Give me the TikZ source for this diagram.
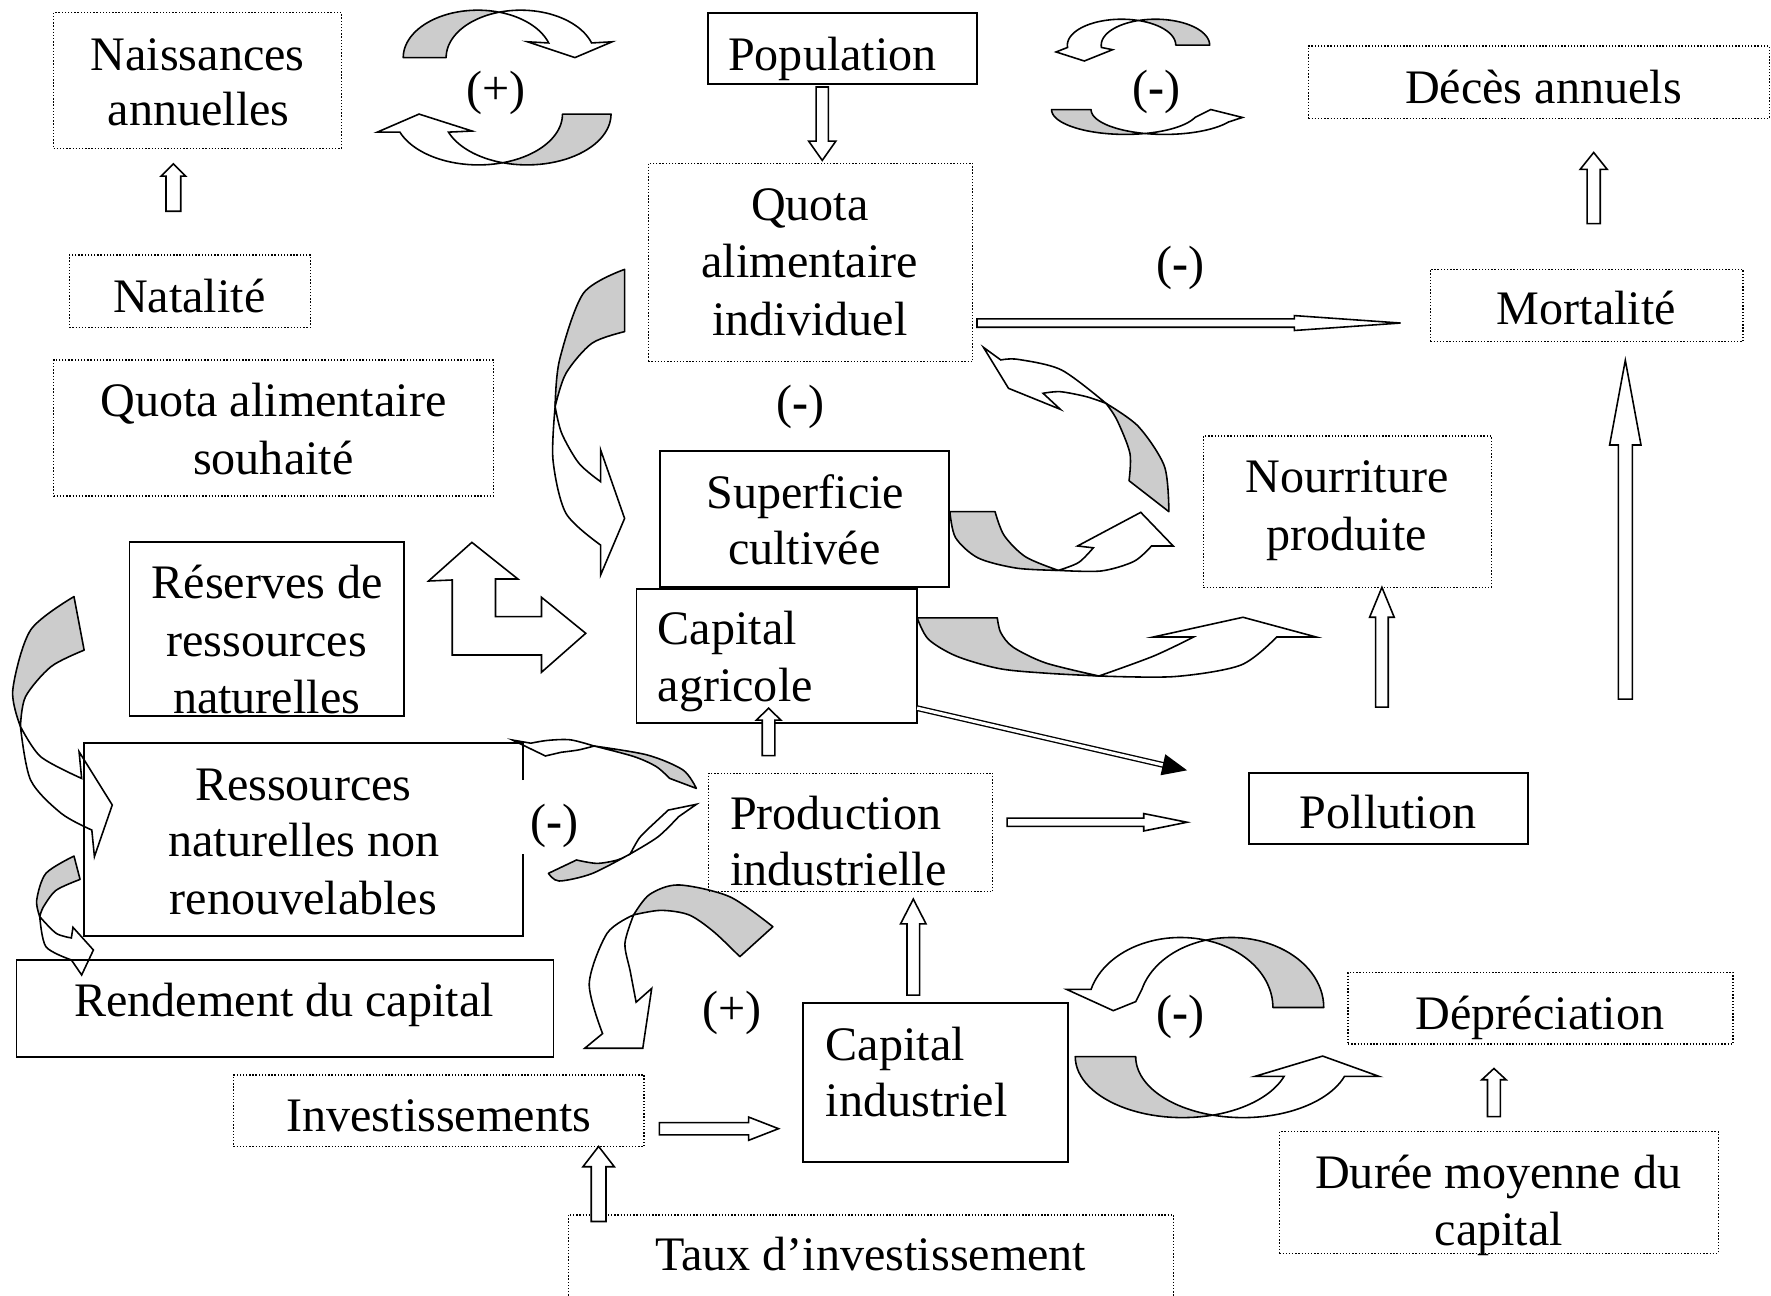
\documentclass[tikz,border=0pt]{standalone}
\usepackage{fontspec}
\setmainfont{Liberation Serif}
\usetikzlibrary{fit}
\definecolor{backgray}{RGB}{204,204,204}
\newcommand\vblock[6]{\filldraw[blockarrow] ({#1-#5},#4) -- ({#1-#5},#3) -- ({#1-#6},#3) -- (#1,#2) -- ({#1+#6},#3) -- ({#1+#5},#3) -- ({#1+#5},#4) -- cycle;}
\newcommand\hblock[6]{\filldraw[blockarrow] (#4,{#1-#5}) -- (#3,{#1-#5}) -- (#3,{#1-#6}) -- (#2,#1) -- (#3,{#1+#6}) -- (#3,{#1+#5}) -- (#4,{#1+#5}) -- cycle;}
\begin{document}
\begin{tikzpicture}[x=0.5pt,y=-0.5pt,
  sbox/.style={draw, line width=0.8pt, inner sep=0pt},
  dbox/.style={draw, line width=0.6pt, dash pattern=on 0.6pt off 0.8pt, inner sep=0pt},
  lbl/.style={font=\fontsize{21.3pt}{25.5pt}\selectfont, inner sep=0pt, anchor=base},
  sign/.style={font=\fontsize{21.3pt}{25.5pt}\selectfont, inner sep=0pt, anchor=center},
  blockarrow/.style={draw, fill=white, line width=0.7pt, line join=miter},
  backside/.style={draw, fill=backgray, line width=0.7pt, line join=round},
  frontside/.style={draw, fill=white, line width=0.7pt, line join=miter}]
\useasboundingbox (0,0) rectangle (1568,1147);

% ---------- curved arrows ----------
% (+) loop, top
\filldraw[backside] plot[domain=180:73.3,samples=30] ({423+66*cos(\x)},{51-42*sin(\x)}) -- plot[domain=106.7:180,samples=30] ({461+66*cos(\x)},{51-42*sin(\x)}) -- cycle;
\filldraw[frontside] plot[domain=73.3:18,samples=30] ({423+66*cos(\x)},{51-42*sin(\x)}) -- (467,37) -- (509,51) -- (542,37) -- plot[domain=18:106.7,samples=30] ({461+66*cos(\x)},{51-42*sin(\x)}) -- cycle;
\filldraw[backside] plot[domain=0:106.8,samples=30] ({466.6+74.4*cos(\x)},{101+45*sin(\x)}) -- plot[domain=73.2:0,samples=30] ({423.6+74.4*cos(\x)},{101+45*sin(\x)}) -- cycle;
\filldraw[frontside] plot[domain=106.8:159.2,samples=30] ({466.6+74.4*cos(\x)},{101+45*sin(\x)}) -- (418,116) -- (371,101) -- (334,117) -- plot[domain=159.2:73.2,samples=30] ({423.6+74.4*cos(\x)},{101+45*sin(\x)}) -- cycle;
% (-) loop, top right
\filldraw[backside] plot[domain=0:108.2,samples=30] ({1023+48*cos(\x)},{40-23*sin(\x)}) -- plot[domain=71.8:0,samples=30] ({993+48*cos(\x)},{40-23*sin(\x)}) -- cycle;
\filldraw[frontside] plot[domain=108.2:185,samples=30] ({1023+48*cos(\x)},{40-23*sin(\x)}) -- (985,44) -- (960,54) -- (935,46) -- plot[domain=185:71.8,samples=30] ({993+48*cos(\x)},{40-23*sin(\x)}) -- cycle;
\filldraw[backside] plot[domain=180:74.4,samples=30] ({996.2+65.2*cos(\x)},{97+22*sin(\x)}) -- plot[domain=105.6:180,samples=30] ({1031.2+65.2*cos(\x)},{97+22*sin(\x)}) -- cycle;
\filldraw[frontside] plot[domain=74.4:18.5,samples=30] ({996.2+65.2*cos(\x)},{97+22*sin(\x)}) -- (1072,97) -- (1100,104) -- plot[domain=30:105.6,samples=30] ({1031.2+65.2*cos(\x)},{97+22*sin(\x)}) -- cycle;
% big arrow Quota individuel -> Superficie
\filldraw[backside] plot[smooth] coordinates {(553,238.5) (516.5,259.7) (495.4,318.7) (491.5,360)} -- plot[smooth] coordinates {(491.5,360) (501.1,330.5) (524.1,303.9) (553,293.6)} -- cycle;
\filldraw[frontside] plot[smooth] coordinates {(491.5,360) (497.3,383.6) (512.6,410.2) (531.8,426.5)} -- (531.8,398.4) -- (553,459) -- (531.8,509) -- plot[smooth] coordinates {(531.8,482.6) (501.1,454.5) (489.6,407.2) (491.5,360)} -- cycle;
% Nourriture -> Quota individuel
\filldraw[backside] plot[smooth] coordinates {(1034.9,453) (1031,413) (1008,377.7) (979.2,357.1)} -- plot[smooth] coordinates {(979.2,357.1) (988.9,371.8) (1000.4,401.3) (999.6,425.6)} -- cycle;
\filldraw[frontside] plot[smooth] coordinates {(979.2,357.1) (961.9,351.2) (938.8,346.8) (923.5,348.2)} -- (938.8,362.4) -- (892.9,343.8) -- (870.7,307.5) -- plot[smooth] coordinates {(886.1,318.7) (901.5,318.2) (939.9,327.6) (979.2,357.1)} -- cycle;
% Superficie -> Nourriture
\filldraw[backside] plot[smooth] coordinates {(841,453) (846,476) (866,494) (900,503) (937,505)} -- plot[smooth] coordinates {(937,505) (908,493) (889,474) (881,453)} -- cycle;
\filldraw[frontside] plot[smooth] coordinates {(937,505) (955,498) (968,485)} -- (954,483.4) -- (1010,453.6) -- (1038.7,483.4) -- plot[smooth] coordinates {(1019.5,483.4) (1004,497) (975,505.5) (937,505)} -- cycle;
% Capital agricole -> Nourriture
\filldraw[backside] plot[smooth] coordinates {(812,547) (822,566) (847,581) (885,592) (926,596) (973,598.5)} -- plot[smooth] coordinates {(973,598.5) (926,587) (897,573) (886,560) (883,547)} -- cycle;
\filldraw[frontside] plot[smooth] coordinates {(973,598.5) (1021,581) (1056.8,564)} -- (1021,564) -- (1100.5,546.5) -- (1165.4,564) -- plot[smooth] coordinates {(1130.3,564) (1098.7,588.8) (1040,599) (973,598.5)} -- cycle;
% Reserves -> Ressources
\filldraw[backside] plot[smooth] coordinates {(65.5,528.2) (27.1,557.8) (11.3,611) (18.1,643.2)} -- plot[smooth] coordinates {(18.1,643.2) (22.6,616.8) (45.2,590.2) (74.5,575.6)} -- cycle;
\filldraw[frontside] plot[smooth] coordinates {(18.1,643.2) (36.1,670) (72.3,689.2)} -- (70,665.5) -- (99.4,712.7) -- (83.6,758.4) -- plot[smooth] coordinates {(81.3,734.9) (54.2,720.1) (27.1,690.6) (18.1,643.2)} -- cycle;
% Ressources -> Rendement
\filldraw[backside] plot[smooth] coordinates {(65.5,757.9) (40.7,773.2) (32.5,796.9) (35.2,811.6)} -- plot[smooth] coordinates {(35.2,811.6) (38.4,803) (49.7,788.2) (70.9,778.6)} -- cycle;
\filldraw[frontside] plot[smooth] coordinates {(35.2,811.6) (49.7,826.3) (63.2,830.4)} -- (64.6,821) -- (82.7,841.1) -- (72.3,863.2) -- plot[smooth] coordinates {(63.2,849.9) (40.7,838.2) (35.2,811.6)} -- cycle;
% (-) loop, middle left
\filldraw[backside] plot[smooth] coordinates {(616.5,698) (604.7,681.7) (573,668.4) (526,660.5)} -- plot[smooth] coordinates {(526,660.5) (561.2,669.8) (581,678.7) (592.8,689.1)} -- cycle;
\filldraw[frontside] plot[smooth] coordinates {(526,660.5) (505,655) (485,655.5) (470,658)} -- (453.7,655.2) -- (482.9,669.3) -- (497,666) -- plot[smooth] coordinates {(497,666) (512,664) (526,660.5)} -- cycle;
\filldraw[backside] plot[smooth] coordinates {(485.6,773.2) (495,780) (524,773.5) (558,756)} -- plot[smooth] coordinates {(558,756) (546.6,761.4) (528.5,764.4) (510.4,761.4)} -- cycle;
\filldraw[frontside] plot[smooth] coordinates {(558,756) (582.7,740.8) (600.8,723.1)} -- (616.6,712.1) -- (591.7,717.2) -- (575.9,731.9) -- plot[smooth] coordinates {(575.9,731.9) (566,742) (558,756)} -- cycle;
% (+) loop, bottom
\filldraw[backside] plot[smooth] coordinates {(684.3,820.5) (646,793.9) (600.8,783.5) (575,792) (561,810)} -- plot[smooth] coordinates {(561,810) (585,806) (610,810) (632,825) (655,847)} -- cycle;
\filldraw[frontside] plot[smooth] coordinates {(561,810) (553.3,835.2) (558,860) (563.2,887.3)} -- (577,875.1) -- (569.1,928.1) -- (517.7,928.1) -- plot[smooth] coordinates {(533.5,915.1) (521.7,870.8) (537.5,826.3) (561,810)} -- cycle;
% (-) loop, bottom right
\filldraw[backside] plot[domain=0:106,samples=30] ({1090.1+81.9*cos(\x)},{892-62*sin(\x)}) -- plot[domain=74:0,samples=30] ({1045.1+81.9*cos(\x)},{892-62*sin(\x)}) -- cycle;
\filldraw[frontside] plot[domain=106:165,samples=30] ({1090.1+81.9*cos(\x)},{892-62*sin(\x)}) -- (1005.5,886.8) -- (985.7,894.8) -- (944.2,875.9) -- plot[domain=165:74,samples=30] ({1045.1+81.9*cos(\x)},{892-62*sin(\x)}) -- cycle;
\filldraw[backside] plot[domain=180:73.6,samples=30] ({1047+95*cos(\x)},{935.5+54*sin(\x)}) -- plot[domain=106.4:180,samples=30] ({1100.5+95*cos(\x)},{935.5+54*sin(\x)}) -- cycle;
\filldraw[frontside] plot[domain=73.6:18.9,samples=30] ({1047+95*cos(\x)},{935.5+54*sin(\x)}) -- (1111,953) -- (1171,935) -- (1221,953) -- plot[domain=18.9:106.4,samples=30] ({1100.5+95*cos(\x)},{935.5+54*sin(\x)}) -- cycle;

% ---------- boxes ----------
\node[dbox, fit={(47.4,11.2) (302.3,131.3)}] (naiss) {};
\node[sbox, fit={(626.8,11.2) (865.2,74.7)}] (pop) {};
\node[dbox, fit={(1158.4,40.7) (1566.5,104.8)}] (deces) {};
\node[dbox, fit={(61.3,225.8) (274.7,289.8)}] (natal) {};
\node[dbox, fit={(47.4,318.7) (436.7,439.1)}] (qsouh) {};
\node[dbox, fit={(573.9,144.6) (861.2,320.2)}] (qind) {};
\node[dbox, fit={(1266.4,238.4) (1543.3,302.5)}] (mort) {};
\node[sbox, fit={(584.6,399) (840.3,520)}] (superf) {};
\node[dbox, fit={(1065.5,386) (1320.4,520)}] (nourr) {};
\node[sbox, fit={(114.6,480.1) (357.7,633.9)}] (reserv) {};
\node[sbox, fit={(563.6,521.5) (811.8,640.4)}] (capagr) {};
\node[inner sep=0pt, fit={(74.5,658) (463,828.7)}] (ressnr) {};
\draw[line width=0.8pt] (463,690.6) -- (463,658) -- (74.5,658) -- (74.5,828.7) -- (463,828.7) -- (463,756);
\node[dbox, fit={(627.3,684.6) (879,789.4)}] (prodind) {};
\node[sbox, fit={(1105.8,684.1) (1353,747.2)}] (pollu) {};
\node[sbox, fit={(14.6,850) (490,935.5)}] (rendem) {};
\node[dbox, fit={(206.7,951.7) (570.3,1015.2)}] (invest) {};
\node[inner sep=0pt, fit={(503.1,1075.7) (1039.1,1147)}] (taux) {};
\draw[line width=0.6pt, dash pattern=on 0.6pt off 0.8pt] (503.1,1147) -- (503.1,1075.7) -- (1039.1,1075.7) -- (1039.1,1147);
\node[sbox, fit={(711,888.3) (945.4,1028.5)}] (capind) {};
\node[dbox, fit={(1193.5,860.9) (1534.2,924.3)}] (deprec) {};
\node[dbox, fit={(1132.8,1001.9) (1521.3,1109.6)}] (duree) {};

% ---------- texts ----------
\node[lbl] (t-naiss1) at (175,62) {Naissances};
\node[lbl] (t-naiss2) at (176,111.5) {annuelles};
\node[lbl] (t-pop) at (737,62) {Population};
\node[lbl] (t-deces) at (1366.5,91.5) {Décès annuels};
\node[lbl] (t-natal) at (167.5,276.5) {Natalité};
\node[lbl] (t-qs1) at (242,369) {Quota alimentaire};
\node[lbl] (t-qs2) at (242,419.7) {souhaité};
\node[lbl] (t-qi1) at (717,195) {Quota};
\node[lbl] (t-qi2) at (717,246) {alimentaire};
\node[lbl] (t-qi3) at (717,297) {individuel};
\node[lbl] (t-mort) at (1404.5,287.7) {Mortalité};
\node[lbl] (t-sup1) at (713,450) {Superficie};
\node[lbl] (t-sup2) at (712,499.6) {cultivée};
\node[lbl] (t-nou1) at (1192.5,436.2) {Nourriture};
\node[lbl] (t-nou2) at (1192.5,487.5) {produite};
\node[lbl] (t-res1) at (236.5,529.7) {Réserves de};
\node[lbl] (t-res2) at (236,581.3) {ressources};
\node[lbl] (t-res3) at (236,631.5) {naturelles};
\node[lbl, anchor=base west] (t-ca1) at (582,571) {Capital};
\node[lbl, anchor=base west] (t-ca2) at (582,621.2) {agricole};
\node[lbl] (t-rn1) at (268.5,708.3) {Ressources};
\node[lbl] (t-rn2) at (269,758.5) {naturelles non};
\node[lbl] (t-rn3) at (268.5,809.6) {renouvelables};
\node[lbl, anchor=base west] (t-pi1) at (646,734.8) {Production};
\node[lbl, anchor=base west] (t-pi2) at (646,784.4) {industrielle};
\node[lbl] (t-pol) at (1229,733.3) {Pollution};
\node[lbl] (t-rend) at (251.5,900.1) {Rendement du capital};
\node[lbl] (t-inv) at (388.5,1001.9) {Investissements};
\node[lbl] (t-taux) at (771,1125) {Taux d’investissement};
\node[lbl, anchor=base west] (t-ci1) at (730.8,939.1) {Capital};
\node[lbl, anchor=base west] (t-ci2) at (730.8,988.6) {industriel};
\node[lbl] (t-dep) at (1363.5,911.9) {Dépréciation};
\node[lbl] (t-dur1) at (1326.5,1052.1) {Durée moyenne du};
\node[lbl] (t-dur2) at (1327,1102.3) {capital};

% loop signs
\node[sign] (s1) at (439,82) {(+)};
\node[sign] (s2) at (1024,81) {(\textbf{-})};
\node[sign] (s3) at (1045,237) {(\textbf{-})};
\node[sign] (s4) at (709,360) {(\textbf{-})};
\node[sign] (s5) at (491,731) {(\textbf{-})};
\node[sign] (s6) at (648,897) {(+)};
\node[sign] (s7) at (1045,900) {(\textbf{-})};

% ---------- block arrows ----------
\vblock{153.5}{145}{156}{187}{6.5}{11}
\vblock{728}{142}{125}{77}{5.4}{12}
\vblock{1411}{135}{150}{198}{5.8}{12}
\hblock{286}{1240}{1146}{865}{3.7}{6.6}
\vblock{1439}{319}{394}{619}{6.2}{13.9}
\vblock{1223.5}{520}{546.5}{626}{5.6}{10.9}
\vblock{680.5}{627}{637.5}{669}{5.6}{10.8}
\hblock{728}{1051}{1012.6}{891.6}{3.7}{7.7}
\vblock{808.6}{796}{818}{881}{5.6}{11.3}
\hblock{999.3}{689.3}{662.8}{583.8}{5.4}{10.3}
\vblock{530}{1015}{1033}{1081.5}{6.5}{13.9}
\vblock{1322.7}{946}{956}{988.6}{5.75}{10.8}
% bent double arrow
\filldraw[blockarrow] (400.4,579.9) -- (400.4,513.5) -- (379.4,514.4) -- (417.8,480.2) -- (458.5,512.6) -- (438.7,512.6) -- (438.7,546) -- (479.4,546) -- (479.4,528.8) -- (518.6,560.7) -- (479.4,595.2) -- (479.4,579.9) -- cycle;
% Capital agricole -> Pollution (double line, black head)
\coordinate (dstart) at (812,627);
\coordinate (dbase) at (1031,677.5);
\coordinate (dtip) at (1051,682);
\draw[line width=0.6pt, double distance=1.4pt] (dstart) -- (dbase);
\fill (dtip) -- (1027.5,686.4) -- (1031.7,667.8) -- cycle;
\end{tikzpicture}
\end{document}
